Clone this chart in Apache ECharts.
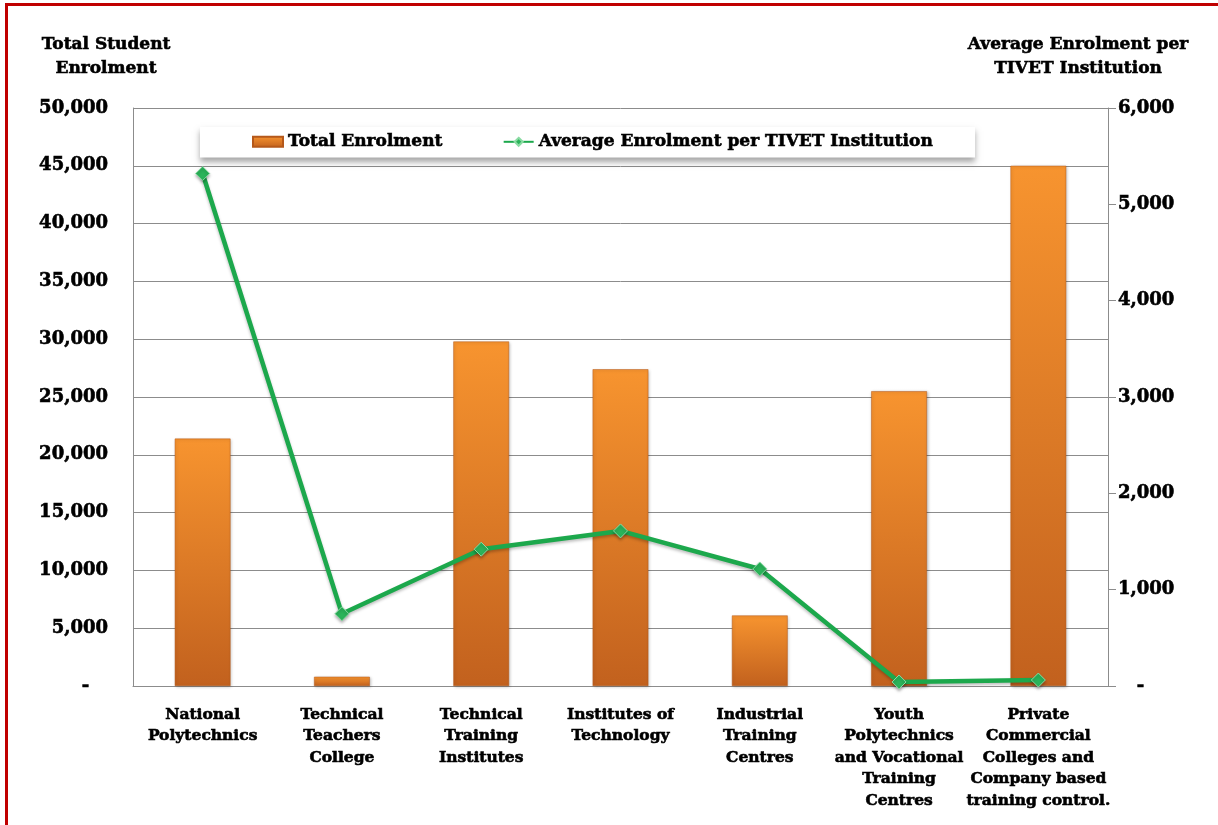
<!DOCTYPE html>
<html>
<head>
<meta charset="utf-8">
<script src="https://cdn.jsdelivr.net/npm/echarts@6/dist/echarts.min.js"></script>
<style>
html,body{margin:0;padding:0;background:#fff;}
#chart{position:absolute;left:0;top:0;width:1218px;height:825px;}
#frame{position:absolute;left:5px;top:3px;width:1213px;height:822px;border-left:3px solid #C00000;border-top:3px solid #C00000;box-sizing:border-box;pointer-events:none;}
</style>
</head>
<body>
<div id="chart"></div>
<div id="frame"></div>
<script>
var categories = ['National Polytechnics','Technical Teachers College','Technical Training Institutes','Institutes of Technology','Industrial Training Centres','Youth Polytechnics and Vocational Training Centres','Private Commercial Colleges and Company based training control.'];
var tickLabels = ['National\nPolytechnics','Technical\nTeachers\nCollege','Technical\nTraining\nInstitutes','Institutes of\nTechnology','Industrial\nTraining\nCentres','Youth\nPolytechnics\nand Vocational\nTraining\nCentres','Private\nCommercial\nColleges and\nCompany based\ntraining control.'];
var totalEnrolment = [21400, 800, 29800, 27400, 6100, 25500, 45000];
var averageEnrolment = [5320, 750, 1420, 1610, 1215, 42, 62];
var leftAxisName = 'Total Student\nEnrolment';
var rightAxisName = 'Average Enrolment per\nTIVET Institution';

var FONT = 'DejaVu Serif';
function fmt(v, pad){
  if (v === 0) return pad;
  return v.toString().replace(/\B(?=(\d{3})+(?!\d))/g, ',');
}
function ts(size, extra){
  var o = {fontFamily: FONT, fontWeight: 'bold', fontSize: size, color: '#000', textBorderColor: '#000', textBorderWidth: 0.6};
  if (extra) for (var k in extra) o[k] = extra[k];
  return o;
}
var chart = echarts.init(document.getElementById('chart'));
chart.setOption({
  backgroundColor: '#ffffff',
  textStyle: {fontFamily: FONT, fontWeight: 'bold', color: '#000'},
  title: [
    {text: leftAxisName, left: 101, top: 28, textAlign: 'center', textStyle: ts(17, {lineHeight: 24})},
    {text: rightAxisName, left: 1073, top: 28, textAlign: 'center', textStyle: ts(17, {lineHeight: 24})}
  ],
  legend: {
    top: 127, left: 200,
    itemGap: 60, itemWidth: 30, itemHeight: 10,
    padding: [6, 42, 7, 52],
    backgroundColor: '#ffffff',
    shadowColor: 'rgba(0,0,0,0.35)', shadowBlur: 6, shadowOffsetY: 4,
    textStyle: ts(17),
    data: [{name: 'Total Enrolment', icon: 'rect'}, {name: 'Average Enrolment per TIVET Institution'}]
  },
  grid: {left: 133, right: 110, top: 108, bottom: 139, containLabel: false},
  xAxis: {
    type: 'category',
    data: categories,
    axisLine: {show: true, lineStyle: {color: '#8c8c8c', width: 1}},
    axisTick: {show: false},
    axisLabel: Object.assign({
      interval: 0, margin: 18, lineHeight: 21.5,
      formatter: function(v, i){ return tickLabels[i]; }
    }, ts(15.5))
  },
  yAxis: [
    {type: 'value', min: 0, max: 50000, interval: 5000,
     axisLine: {show: true, lineStyle: {color: '#8c8c8c'}},
     axisTick: {show: false},
     splitLine: {show: true, lineStyle: {color: '#8c8c8c', width: 1}},
     axisLabel: Object.assign({margin: 25, formatter: function(v){ return fmt(v, '-   '); }}, ts(18))
    },
    {type: 'value', min: 0, max: 6000, interval: 1000,
     position: 'right',
     axisLine: {show: true, lineStyle: {color: '#8c8c8c'}},
     axisTick: {show: true, length: 8, inside: false, lineStyle: {color: '#8c8c8c'}},
     splitLine: {show: false},
     axisLabel: Object.assign({margin: 10, formatter: function(v){ return fmt(v, '   -'); }}, ts(18))
    }
  ],
  series: [
    {
      name: 'Total Enrolment', type: 'bar', yAxisIndex: 0, data: totalEnrolment,
      barWidth: '40%',
      itemStyle: {
        color: new echarts.graphic.LinearGradient(0, 0, 0, 1, [
          {offset: 0, color: '#F7942F'}, {offset: 1, color: '#C2611E'}
        ]),
        borderColor: '#B5581A', borderWidth: 0.5,
        shadowColor: 'rgba(0,0,0,0.25)', shadowBlur: 3, shadowOffsetX: 1, shadowOffsetY: 1
      }
    },
    {
      name: 'Average Enrolment per TIVET Institution', type: 'line', yAxisIndex: 1, data: averageEnrolment,
      symbol: 'diamond', symbolSize: 14,
      lineStyle: {color: '#1CA84C', width: 4.5, shadowColor: 'rgba(0,0,0,0.25)', shadowBlur: 3, shadowOffsetY: 2},
      itemStyle: {color: '#2BB35A', borderColor: '#8ADBA3', borderWidth: 1,
        shadowColor: 'rgba(0,0,0,0.3)', shadowBlur: 3, shadowOffsetY: 2},
      z: 5
    }
  ]
});
</script>
</body>
</html>
